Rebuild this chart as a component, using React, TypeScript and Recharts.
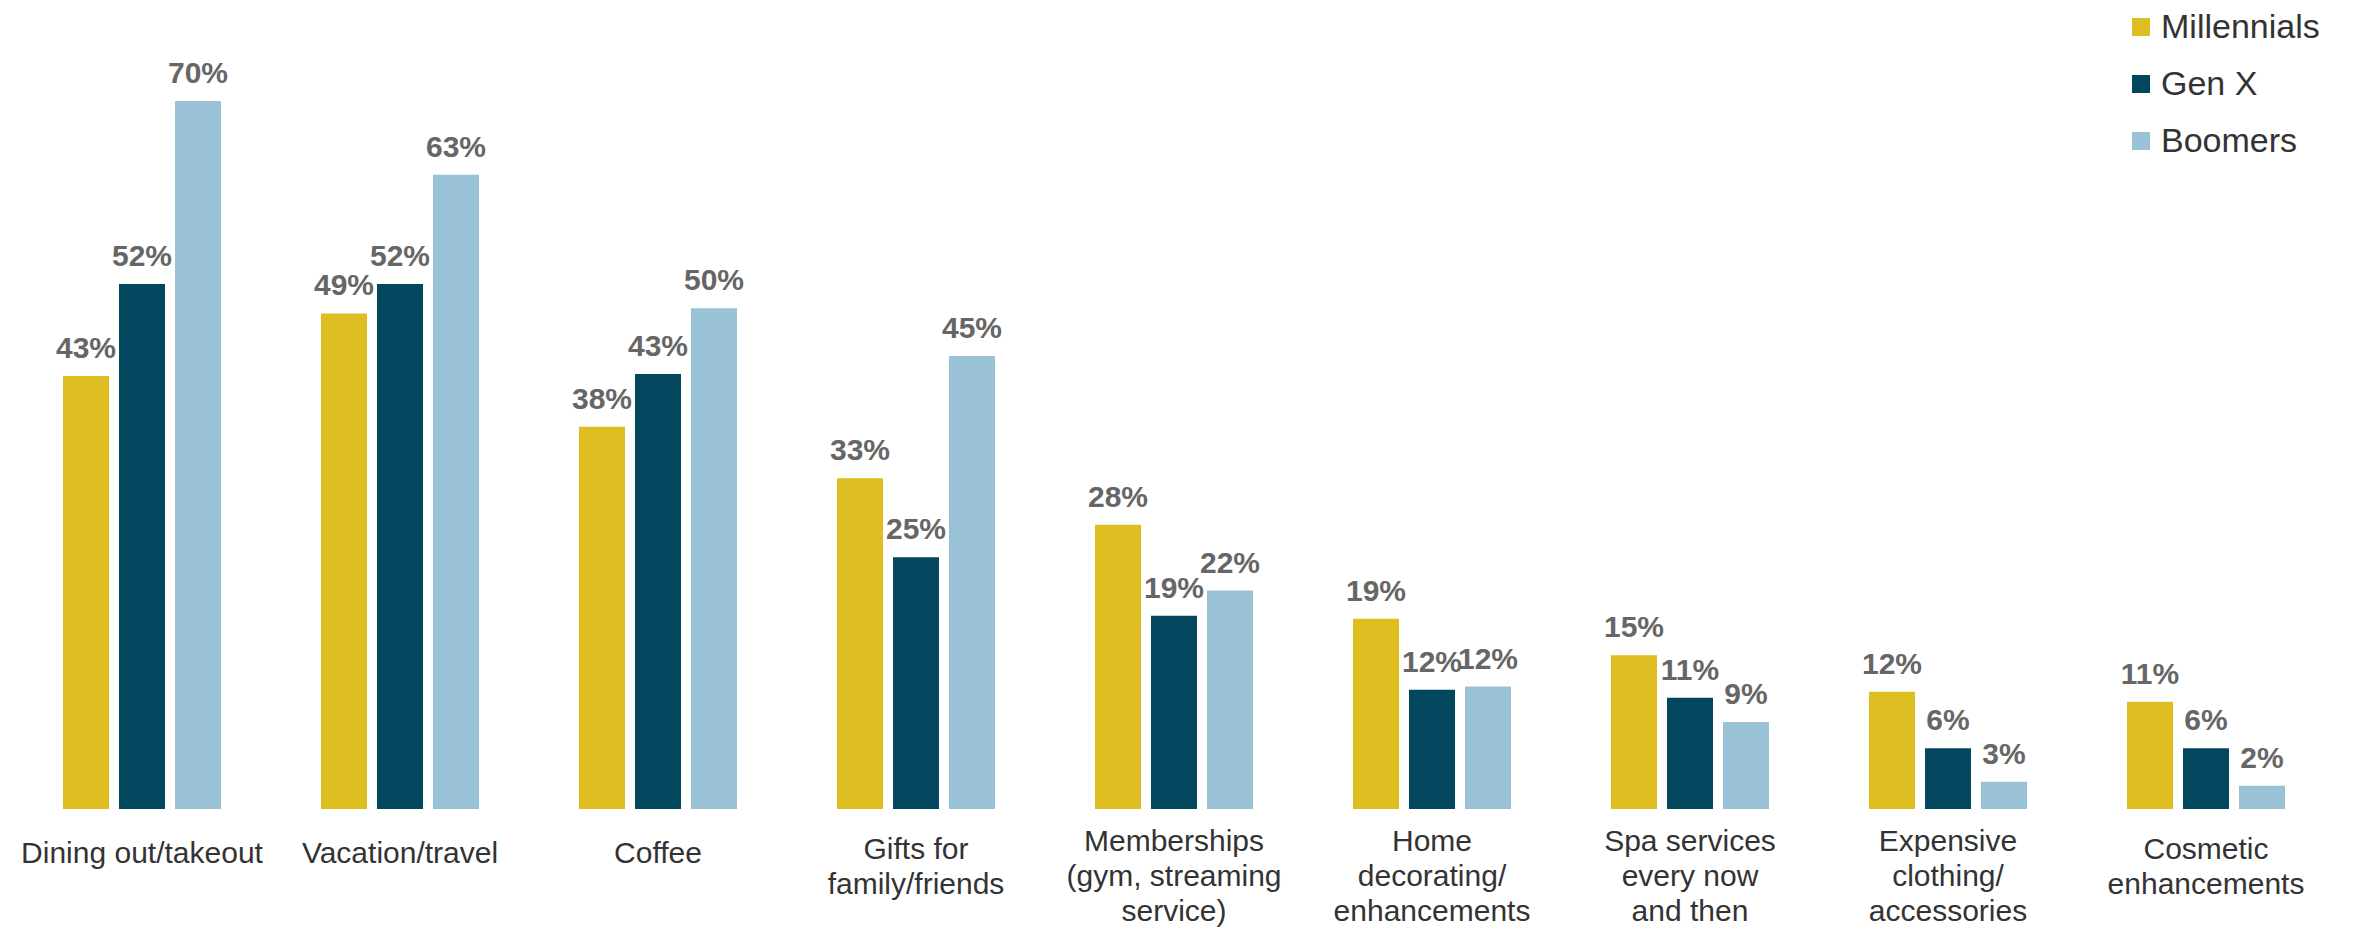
import { BarChart, Bar, XAxis, YAxis, LabelList } from 'recharts'

const categories = [
  ['Dining out/takeout'],
  ['Vacation/travel'],
  ['Coffee'],
  ['Gifts for', 'family/friends'],
  ['Memberships', '(gym, streaming', 'service)'],
  ['Home', 'decorating/', 'enhancements'],
  ['Spa services', 'every now', 'and then'],
  ['Expensive', 'clothing/', 'accessories'],
  ['Cosmetic', 'enhancements'],
]

const millennials = [42.8, 49, 37.8, 32.7, 28.1, 18.8, 15.2, 11.6, 10.6]
const genX = [51.9, 51.9, 43, 24.9, 19.1, 11.8, 11, 6, 6]
const boomers = [70, 62.7, 49.5, 44.8, 21.6, 12.1, 8.6, 2.7, 2.3]

const series = [
  { key: 'millennials', name: 'Millennials', color: '#DFBE22' },
  { key: 'genX', name: 'Gen X', color: '#03475E' },
  { key: 'boomers', name: 'Boomers', color: '#99C2D6' },
]

const data = categories.map((lines, i) => ({
  name: lines.join(' '),
  millennials: millennials[i],
  genX: genX[i],
  boomers: boomers[i],
}))

const FONT = '"Liberation Sans", Arial, sans-serif'

const CategoryTick = ({ x, y, index }: any) => {
  const lines = categories[index] || []
  const first = lines.length === 3 ? 42 : lines.length === 2 ? 50 : 54
  return (
    <g>
      {lines.map((line, i) => (
        <text
          key={i}
          x={x}
          y={y + first + i * 35}
          textAnchor="middle"
          fill="#333333"
          fontSize={30}
          fontFamily={FONT}
        >
          {line}
        </text>
      ))}
    </g>
  )
}

// legend drawn outside the chart so it doesn't eat plot width
const LegendBox = () => (
  <div style={{ position: 'absolute', left: 2132, top: -2, fontFamily: FONT, color: '#333333' }}>
    {series.map(s => (
      <div key={s.key} style={{ display: 'flex', alignItems: 'center', height: 57 }}>
        <span style={{ width: 18, height: 18, background: s.color, display: 'inline-block', marginRight: 11 }} />
        <span style={{ fontSize: 34 }}>{s.name}</span>
      </div>
    ))}
  </div>
)

export default function App() {
  return (
    <div style={{ position: 'absolute', left: 0, top: 0, width: 2364, height: 935, background: '#fff' }}>
      <BarChart
        width={2364}
        height={935}
        data={data}
        margin={{ top: 101, right: 29, left: 13, bottom: 0 }}
        barCategoryGap={50}
        barGap={10}
      >
        <XAxis
          dataKey="name"
          axisLine={false}
          tickLine={false}
          tickSize={0}
          tickMargin={0}
          interval={0}
          height={126}
          tick={<CategoryTick />}
        />
        <YAxis hide domain={[0, 70]} />
        {series.map(s => (
          <Bar key={s.key} dataKey={s.key} name={s.name} fill={s.color} isAnimationActive={false}>
            <LabelList
              dataKey={s.key}
              position="top"
              offset={18}
              formatter={(v: any) => `${Math.round(v)}%`}
              fill="#666666"
              fontSize={30}
              fontWeight="bold"
              fontFamily={FONT}
            />
          </Bar>
        ))}
      </BarChart>
      <LegendBox />
    </div>
  )
}
